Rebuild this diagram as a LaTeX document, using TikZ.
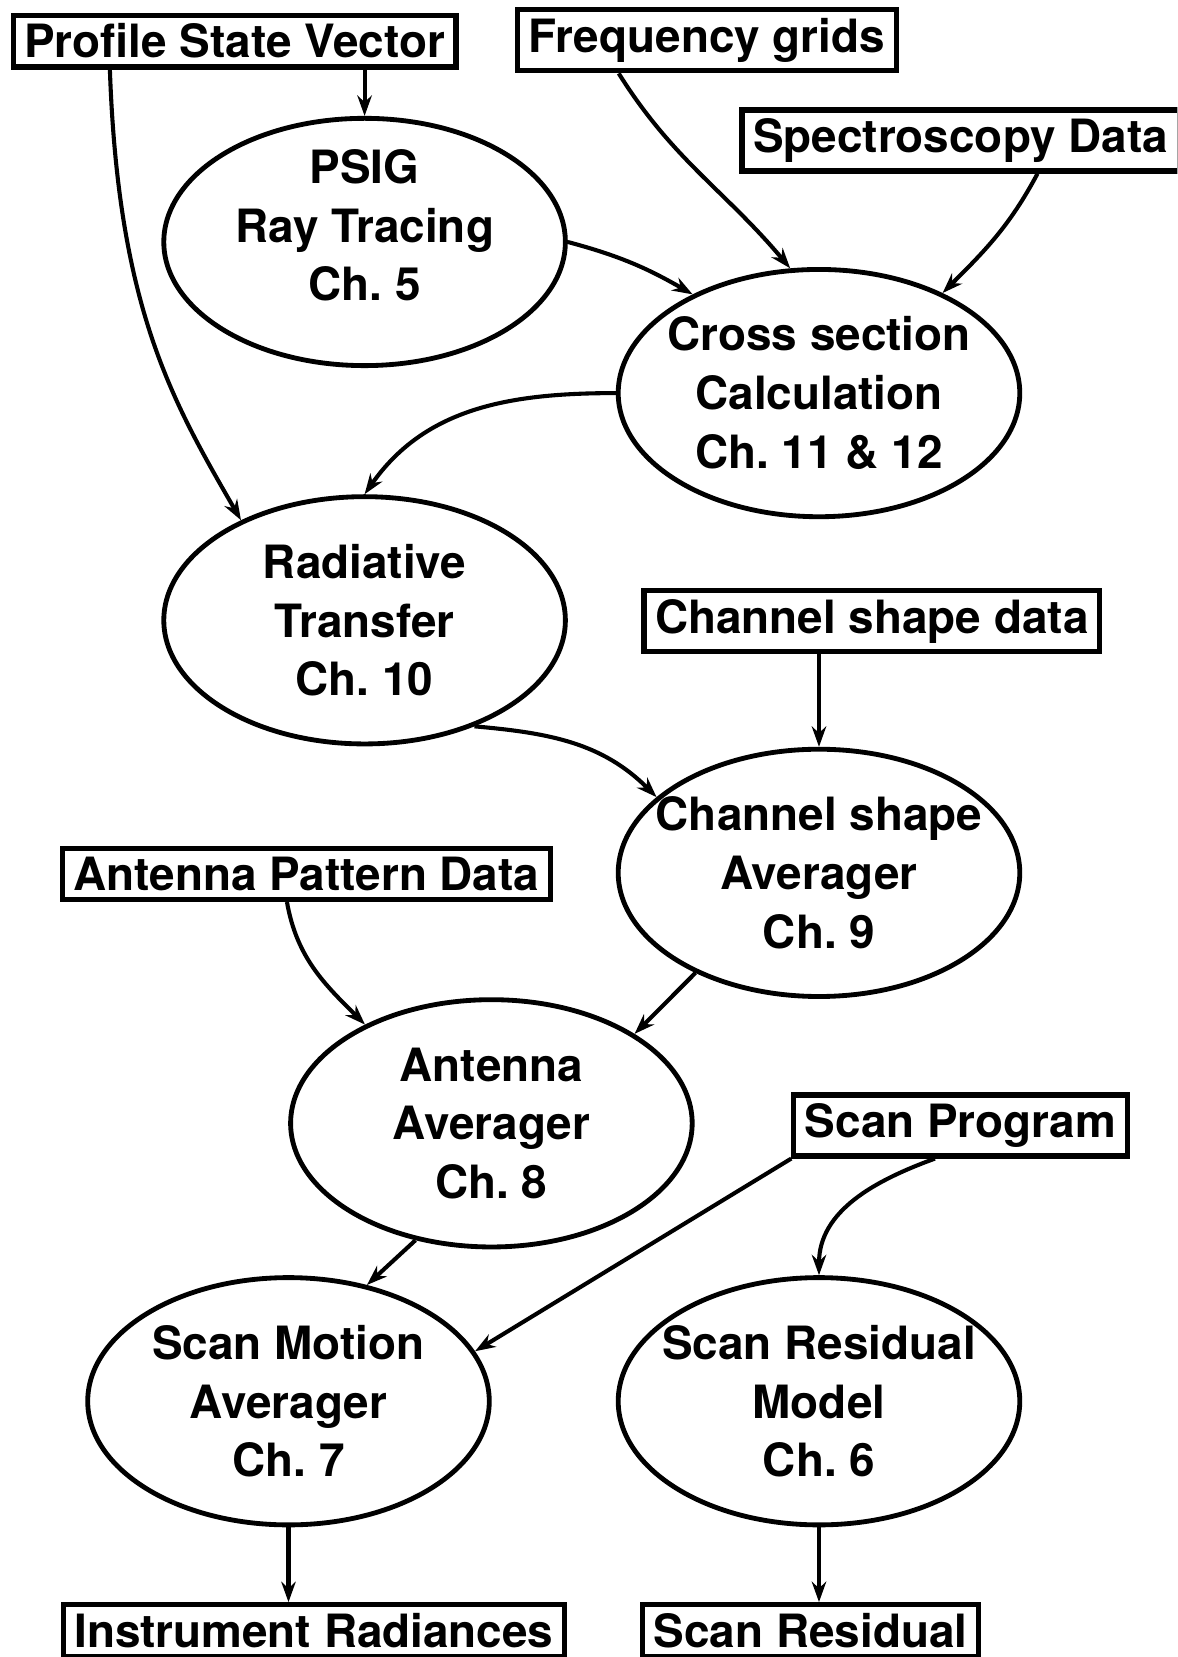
\documentclass[tikz,border=0pt]{standalone}
\usepackage{fontspec}
\setmainfont{TeX Gyre Heros}
\usetikzlibrary{arrows.meta, positioning, calc, shapes.geometric}

\begin{document}
\begin{tikzpicture}[
            font=\fontsize{12.35}{15.8}\selectfont\bfseries\frenchspacing,
            >={Stealth[length=5.5pt, width=3.9pt, inset=1.8pt]},
            flow/.style ={->, line width=1.1pt},
            src/.style  ={draw, line width=1.4pt, inner xsep=3pt, inner ysep=2.3pt},
            proc/.style ={ellipse, draw, line width=1.3pt, align=center,
                          minimum width=3.8cm, minimum height=2.34cm, inner sep=-6pt},
            x=1cm, y=1cm
        ]
        \useasboundingbox (0,0) rectangle (11.14,15.68);
        \clip (0,0) rectangle (11.14,15.68);

        % data boxes
        \node[src] (psv)    at (2.22,15.29) {Profile State Vector};
        \node[src] (freq)   at (6.69,15.30) {Frequency grids};
        \node[src] (spec)   at (9.09,14.35) {Spectroscopy Data};
        \node[src] (csd)    at (8.25,9.80)  {Channel shape data};
        \node[src] (apd)    at (2.90,7.41)  {Antenna Pattern Data};
        \node[src] (scan)   at (9.09,5.03)  {Scan Program};
        \node[src] (irad)   at (2.97,0.25)  {Instrument Radiances};
        \node[src] (sresid) at (7.67,0.25)  {Scan Residual};

        % processing stages
        \node[proc] (psig)  at (3.45,13.39) {PSIG\\Ray Tracing\\Ch. 5\\[-2.4mm]\mbox{}};
        \node[proc] (cross) at (7.75,11.96) {Cross section\\Calculation\\Ch. 11 \& 12};
        \node[proc] (rt)    at (3.45,9.81)  {Radiative\\Transfer\\Ch. 10};
        \node[proc] (chan)  at (7.75,7.42)  {Channel shape\\Averager\\Ch. 9};
        \node[proc] (ant)   at (4.65,5.05)  {Antenna\\Averager\\Ch. 8};
        \node[proc] (smot)  at (2.73,2.42)  {Scan Motion\\Averager\\Ch. 7};
        \node[proc] (sres)  at (7.75,2.42)  {Scan Residual\\Model\\Ch. 6};

        % flows
        \draw[flow] (psig.north |- psv.south) -- (psig.north);
        \draw[flow] ([xshift=0.94cm]psv.south west)
              to[out=-88,in=120,out looseness=1.3,in looseness=0.75] (rt.141);
        \draw[flow] ([xshift=0.98cm]freq.south west) to[out=-58,in=130] (cross.103);
        \draw[flow] ([xshift=2.82cm]spec.south west) to[out=-118,in=45] (cross.39);
        \draw[flow] (psig.east) to[out=-15,in=150] (cross.142);
        \draw[flow] (cross.west) to[out=180,in=55] (rt.north);
        \draw[flow] (rt.-44) to[out=-5,in=135] (chan.155);
        \draw[flow] (chan.north |- csd.south) -- (chan.north);
        \draw[flow] ([xshift=2.15cm]apd.south west) to[out=-80,in=135] (ant.142);
        \draw[flow] (chan.219) -- (ant.32);
        \draw[flow] (ant.-123) -- (smot.56);
        \draw[flow] (scan.south west) -- (smot.15);
        \draw[flow] ([xshift=1.36cm]scan.south west) to[out=-160,in=90] (sres.north);
        \draw[flow] (smot.south) -- (smot.south |- irad.north);
        \draw[flow] (sres.south) -- (sres.south |- sresid.north);

    \end{tikzpicture}
\end{document}
